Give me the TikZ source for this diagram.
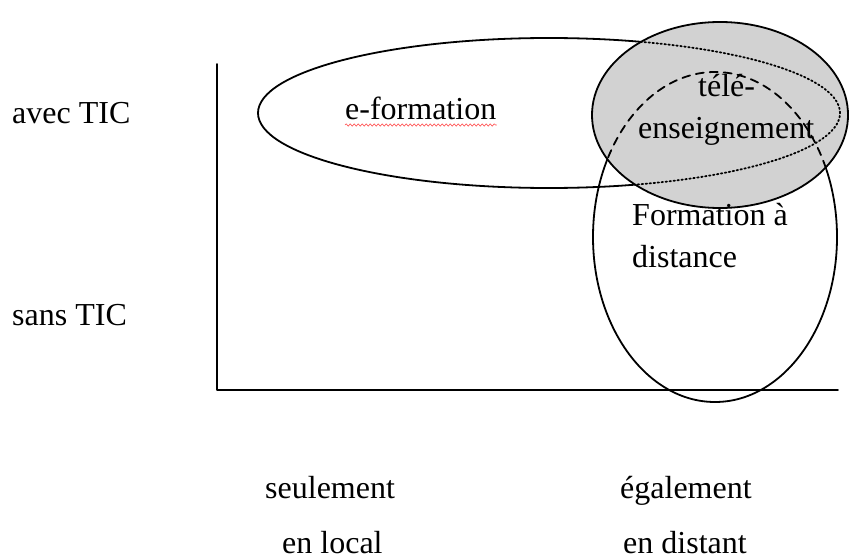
\documentclass[tikz,border=0pt]{standalone}
\usepackage{fontspec}
\setmainfont{Liberation Serif}
\usetikzlibrary{decorations.pathmorphing}

\begin{document}
\begin{tikzpicture}[
  x=1pt,
  y=-1pt,
  line cap=round,
  line join=round,
  trait/.style={line width=1.8pt},
  txt/.style={anchor=base west, inner sep=0pt,
    font=\fontsize{32}{38}\selectfont}
]
  \useasboundingbox (0,0) rectangle (850,559);

  \def\Erx{291pt} \def\Ery{75pt}
  \def\Drx{122pt} \def\Dry{165pt}
  \def\Trx{128pt} \def\Try{93pt}

  \coordinate (E) at (549,113);
  \coordinate (D) at (715,237);
  \coordinate (T) at (720,115);

  % Axes
  \coordinate (haut) at (217,64);
  \coordinate (O) at (217,390);
  \coordinate (droite) at (838,390);
  \draw[trait] (haut) -- (O) -- (droite);

  % e-formation et formation a distance
  \draw[trait] (E) ellipse[x radius=\Erx,y radius=\Ery];
  \draw[trait] (D) ellipse[x radius=\Drx,y radius=\Dry];

  % Tele-enseignement (zone grisee)
  \fill[gray!35] (T) ellipse[x radius=\Trx,y radius=\Try];
  \begin{scope}
    \clip (T) ellipse[x radius=\Trx,y radius=\Try];
    \draw[line width=1.8pt,dash pattern=on 1.5pt off 2.5pt]
      (E) ellipse[x radius=\Erx,y radius=\Ery];
    \draw[line width=1.8pt,dash pattern=on 8pt off 6pt]
      (D) ellipse[x radius=\Drx,y radius=\Dry];
  \end{scope}
  \draw[trait] (T) ellipse[x radius=\Trx,y radius=\Try];

  % Textes
  \node[txt] (avec) at (12,123) {avec TIC};
  \node[txt] (sans) at (12,325) {sans TIC};
  \node[txt] (eform) at (345,119) {e-formation};
  \draw[red!70,line width=0.6pt,
    decorate,decoration={snake,amplitude=1.2pt,segment length=4pt}]
    ([yshift=-6pt]eform.base west) -- ([yshift=-6pt]eform.base east);
  \node[txt] (tele) at (698,97) {télé-};
  \node[txt] (ens) at (638,138) {enseignement};
  \node[txt] (fad) at (632,225) {Formation à};
  \node[txt] (dist) at (632,267) {distance};
  \node[txt] (seul) at (265,498) {seulement};
  \node[txt] (local) at (282,553) {en local};
  \node[txt] (egal) at (620,498) {également};
  \node[txt] (distant) at (623,553) {en distant};
\end{tikzpicture}
\end{document}
